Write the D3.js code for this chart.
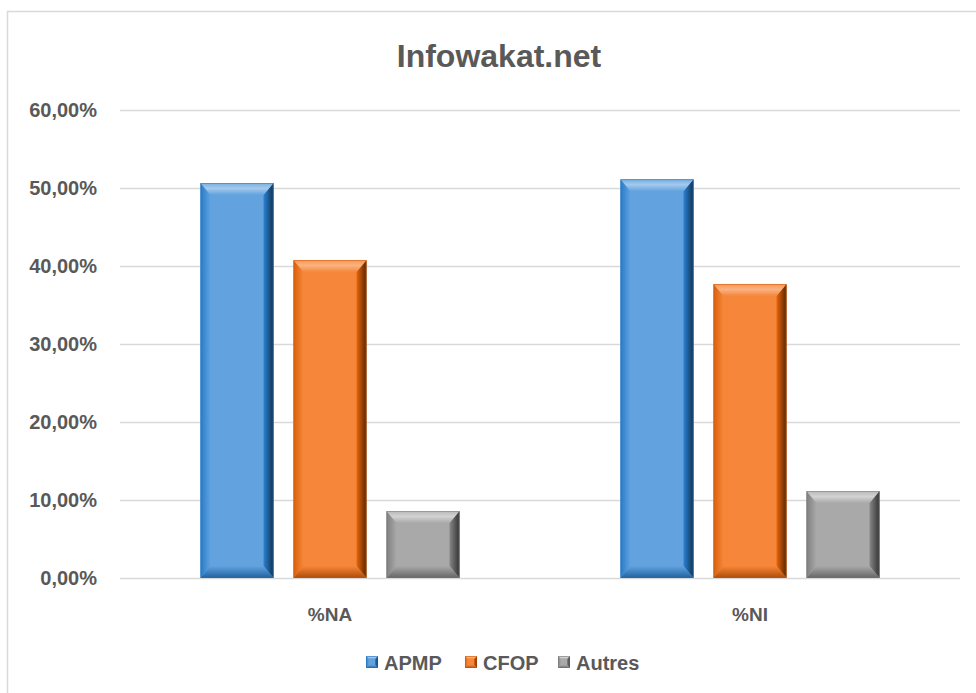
<!DOCTYPE html>
<html><head><meta charset="utf-8">
<script src="https://cdn.jsdelivr.net/npm/d3@7"></script>
<style>body{margin:0;background:#fff}svg{display:block}</style>
</head><body>
<svg id="c" width="976" height="693"></svg>
<script>
const title = "Infowakat.net";
const categories = ["%NA", "%NI"];
const seriesNames = ["APMP", "CFOP", "Autres"];
const apmp = [0.5064, 0.5112];
const cfop = [0.4077, 0.3770];
const autres = [0.0859, 0.1115];
const yTicks = [0, 0.1, 0.2, 0.3, 0.4, 0.5, 0.6];
const colors = ["#61A2DF", "#F6873A", "#A9A9A9"];
const seriesValues = [apmp, cfop, autres];

const svg = d3.select("#c");
const font = "'Liberation Sans', Arial, sans-serif";
const textColor = "#595959";

svg.append("rect").attr("x", 7.5).attr("y", 11.5).attr("width", 1100).attr("height", 1100)
  .attr("fill", "#fff").attr("stroke", "#d9d9d9").attr("stroke-width", 1.5);

const x0 = d3.scaleBand().domain(categories).range([120, 960]).paddingInner(0).paddingOuter(0);
const y = d3.scaleLinear().domain([0, 0.6]).range([578, 110]);
const barW = 73, gap = 20;

svg.append("g").selectAll("line").data(yTicks).join("line")
  .attr("x1", 120).attr("x2", 960)
  .attr("y1", d => Math.round(y(d)) + 0.5).attr("y2", d => Math.round(y(d)) + 0.5)
  .attr("stroke", "#d9d9d9").attr("stroke-width", 1.5);

const fmt = d => (d * 100).toFixed(2).replace(".", ",") + "%";
svg.append("g").selectAll("text").data(yTicks).join("text")
  .attr("x", 97).attr("y", d => y(d)).attr("dy", "0.35em")
  .attr("text-anchor", "end").attr("font-family", font).attr("font-weight", "bold")
  .attr("font-size", 20).attr("fill", textColor).text(fmt);

svg.append("g").selectAll("text").data(categories).join("text")
  .attr("x", d => x0(d) + x0.bandwidth() / 2).attr("y", 621)
  .attr("text-anchor", "middle").attr("font-family", font).attr("font-weight", "bold")
  .attr("font-size", 19).attr("fill", textColor).text(d => d);

svg.append("text").attr("x", 499).attr("y", 67).attr("text-anchor", "middle")
  .attr("font-family", font).attr("font-weight", "bold").attr("font-size", 32)
  .attr("fill", textColor).text(title);

const defs = svg.append("defs");
function shade(c, k) { const h = d3.hsl(c); h.l = Math.max(0, Math.min(1, h.l * k)); return h.toString(); }
colors.forEach((c, i) => {
  const gr = defs.append("linearGradient").attr("id", "r" + i).attr("x1", 0).attr("x2", 1).attr("y1", 0).attr("y2", 0);
  gr.append("stop").attr("offset", 0).attr("stop-color", shade(c, 0.8));
  gr.append("stop").attr("offset", 1).attr("stop-color", shade(c, 0.3));
  const gl = defs.append("linearGradient").attr("id", "l" + i).attr("x1", 0).attr("x2", 1).attr("y1", 0).attr("y2", 0);
  gl.append("stop").attr("offset", 0).attr("stop-color", shade(c, 0.75));
  gl.append("stop").attr("offset", 1).attr("stop-color", c);
  const gt = defs.append("linearGradient").attr("id", "t" + i).attr("x1", 0).attr("x2", 0).attr("y1", 0).attr("y2", 1);
  gt.append("stop").attr("offset", 0).attr("stop-color", shade(c, 1.08));
  gt.append("stop").attr("offset", 0.45).attr("stop-color", shade(c, 1.25));
  gt.append("stop").attr("offset", 1).attr("stop-color", c);
  const gb = defs.append("linearGradient").attr("id", "b" + i).attr("x1", 0).attr("x2", 0).attr("y1", 0).attr("y2", 1);
  gb.append("stop").attr("offset", 0).attr("stop-color", c);
  gb.append("stop").attr("offset", 1).attr("stop-color", shade(c, 0.6));
});

function bevelBar(g, x, yTop, w, h, i, bt, bs) {
  const c = colors[i];
  const x2 = x + w, yB = yTop + h;
  bt = Math.min(bt, h / 2);
  g.append("rect").attr("x", x).attr("y", yTop).attr("width", w).attr("height", h).attr("fill", c);
  g.append("polygon").attr("points", [[x, yTop], [x + bs, yTop + bt], [x + bs, yB - bt], [x, yB]].join(" ")).attr("fill", `url(#l${i})`);
  g.append("polygon").attr("points", [[x2, yTop], [x2 - bs, yTop + bt], [x2 - bs, yB - bt], [x2, yB]].join(" ")).attr("fill", `url(#r${i})`);
  g.append("polygon").attr("points", [[x, yTop], [x2, yTop], [x2 - bs, yTop + bt], [x + bs, yTop + bt]].join(" ")).attr("fill", `url(#t${i})`);
  g.append("polygon").attr("points", [[x, yB], [x2, yB], [x2 - bs, yB - bt], [x + bs, yB - bt]].join(" ")).attr("fill", `url(#b${i})`);
  g.append("rect").attr("x", x + 0.5).attr("y", yTop + 0.5).attr("width", w - 1).attr("height", h - 1)
    .attr("fill", "none").attr("stroke", shade(c, 0.7)).attr("stroke-width", 0.8).attr("opacity", 0.6);
}

const bars = svg.append("g");
categories.forEach((cat, ci) => {
  const groupW = 3 * barW + 2 * gap;
  const start = x0(cat) + (x0.bandwidth() - groupW) / 2;
  seriesValues.forEach((vals, si) => {
    const v = vals[ci];
    const bx = start + si * (barW + gap);
    bevelBar(bars, bx, y(v), barW, y(0) - y(v), si, 12, 10);
  });
});

const legend = svg.append("g");
const legX = [366, 465, 558];
seriesNames.forEach((n, i) => {
  const g = legend.append("g");
  bevelBar(g, legX[i], 656, 12, 12, i, 3, 3);
  g.append("text").attr("x", legX[i] + 18).attr("y", 670).attr("font-family", font)
    .attr("font-weight", "bold").attr("font-size", 20).attr("fill", textColor).text(n);
});
</script>
</body></html>
